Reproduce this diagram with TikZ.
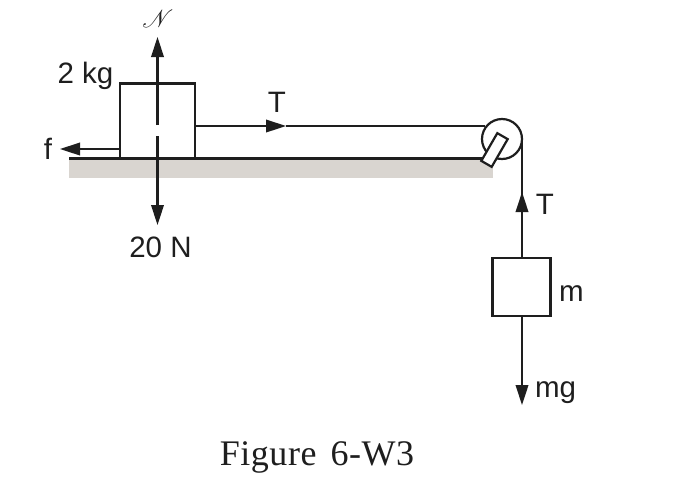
\documentclass[tikz,border=0pt]{standalone}
\usepackage{amsmath}
\usepackage{mathrsfs}
\usepackage{fontspec}
\setsansfont{Liberation Sans}
\setmainfont{Liberation Serif}
\usepackage{tikz}
\usetikzlibrary{arrows.meta}

\definecolor{groundgray}{HTML}{D9D5D0}
\definecolor{inkblack}{HTML}{1E1E1E}

\tikzset{
  blockbox/.style={draw=inkblack, line width=2.2pt, fill=white, inner sep=0pt, minimum width=#1, minimum height=#1},
  rope/.style={draw=inkblack, line width=2.2pt},
  force/.style={draw=inkblack, line width=2.2pt, -{Triangle[length=20pt,width=12.5pt]}},
  lbl/.style={font=\sffamily\fontsize{29.5}{29.5}\selectfont, text=inkblack, inner sep=0pt},
}

\begin{document}
\begin{tikzpicture}[x=1pt,y=-1pt]
\useasboundingbox (0,0) rectangle (688,485);
\fill[groundgray] (69,159) rectangle (493,178);
\coordinate (groundL) at (69,158.5);
\coordinate (groundR) at (484,158.5);
\draw[rope] (groundL) -- (groundR);

\node[blockbox=75pt] (blockA) at (157.5,121) {};
\node[blockbox=58pt] (blockB) at (521.5,287) {};
\node[draw=inkblack, line width=2.2pt, fill=white, circle, minimum size=40pt, inner sep=0pt] (pulley) at (502,139) {};
\node[draw=inkblack, line width=2.2pt, fill=white, minimum width=32pt, minimum height=12pt, inner sep=0pt, rotate=60] (bracket) at (494.5,150) {};

\coordinate (ropeL) at (195,126);
\coordinate (ropeT) at (286,126);
\coordinate (ropeP) at (485,126);
\coordinate (ropeR) at (522,139);
\draw[rope] (ropeT) -- (ropeP);
\draw[force] (ropeL) -- (ropeT);
\draw[rope] (ropeR) -- (blockB.north -| ropeR);
\coordinate (tipT) at (522,192);
\draw[force] (blockB.north -| ropeR) -- (tipT);

\coordinate (upS) at (157.5,125);
\coordinate (upE) at (157.5,37);
\coordinate (dnS) at (157.5,136);
\coordinate (dnE) at (157.5,225);
\coordinate (fS) at (120,149);
\coordinate (fE) at (60,149);
\coordinate (mgE) at (522,405);
\draw[force] (upS) -- (upE);
\draw[force] (dnS) -- (dnE);
\draw[force] (fS) -- (fE);
\draw[force] (blockB.south -| mgE) -- (mgE);

\node[lbl] (nLabel) at (158,19) {\fontsize{38}{38}\selectfont$\mathscr{N}$};
\node[lbl] (massLabel) at (85.5,76) {2 kg};
\node[lbl] (tLabelA) at (277,102) {T};
\node[lbl] (fLabel) at (48,149) {f};
\node[lbl] (weightLabel) at (160.5,247) {20 N};
\node[lbl] (tLabelB) at (545,204) {T};
\node[lbl] (mLabel) at (571.5,294) {m};
\node[lbl] (mgLabel) at (555.5,393) {mg};
\node[inner sep=0pt, text=inkblack, font=\rmfamily\fontsize{36}{36}\selectfont\addfontfeature{LetterSpace=1.5}] (caption) at (317,457) {Figure\hspace{14pt}6-W3};
\end{tikzpicture}
\end{document}
